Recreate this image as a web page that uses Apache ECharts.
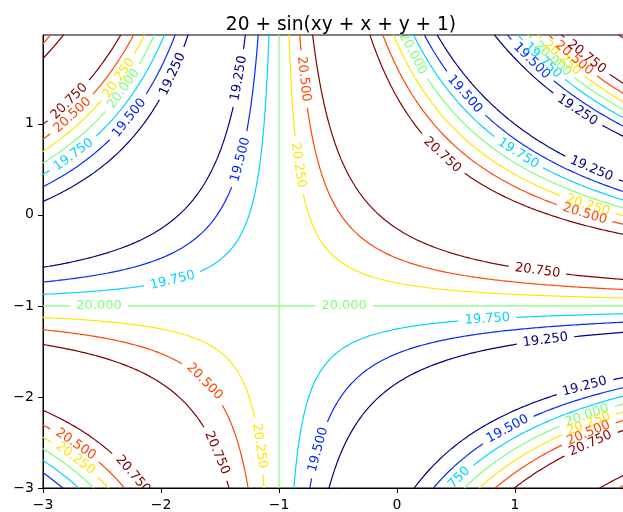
<!DOCTYPE html>
<html lang="en">
<head>
<meta charset="utf-8">
<title>20 + sin(xy + x + y + 1)</title>
</head>
<body style="margin: 0; overflow: hidden; background: #fff">
<div id="container" style="width: 640px; height: 512px"></div>

<script type="text/javascript" src="https://cdn.jsdelivr.net/npm/echarts/dist/echarts.min.js"></script>

<script type="text/javascript">

// contour levels and their colours (jet)
var levels = [19.25, 19.5, 19.75, 20.0, 20.25, 20.5, 20.75];
var levelColors = ['#000080', '#0029ff', '#00d4ff', '#7cff7a', '#ffe600', '#ff4700', '#800000'];

// data extent of the sampled grid
var xRange = [-3, 1.975];
var yRange = [-3, 1.975];
var xTicks = [-3, -2, -1, 0, 1];
var yTicks = [-3, -2, -1, 0, 1];

// inline contour labels: level index and approximate position (data units)
var labelLevel = [6, 5, 4, 3, 1, 0, 2, 0, 5, 1, 4, 3, 1, 1, 2, 3, 4, 5, 6, 0, 6, 2, 0, 4, 5, 6,
    3, 2, 0, 3, 2, 0, 1, 2, 3, 4, 5, 6, 5, 4, 6, 1, 5, 4, 6];
var labelX = [-2.780, -2.754, -2.347, -2.320, -2.271, -1.904, -2.743, -1.358, -0.794, -1.345, -0.836,
    0.144, 0.568, 1.147, 1.254, 1.353, 1.438, 1.523, 1.608, 1.534, 0.364, 1.028, 1.650, 1.621, 1.593,
    1.189, -0.449, 0.765, 1.260, -2.525, -1.904, 1.593, 0.930, 0.449, 1.608, 1.621, 1.621, 1.641,
    -1.627, -1.161, -1.514, -0.681, -2.720, -2.720, -2.235];
var labelY = [1.246, 1.100, 1.490, 1.390, 1.064, 1.545, 0.670, 1.508, 1.490, 0.616, 0.543,
    1.778, 1.319, 1.691, 1.720, 1.764, 1.781, 1.745, 1.727, 1.166, 0.633, 0.670, 0.506, 0.105, 0.014,
    -0.613, -1.0, -1.145, -1.363, -1.0, -0.715, -1.881, -2.336, -2.945, -2.191, -2.282, -2.391, -2.500,
    -1.827, -2.538, -2.610, -2.574, -2.519, -2.664, -2.847];

var dom = document.getElementById('container');
var myChart = echarts.init(dom);

function minusFmt(v) {
    return String(v).replace('-', '\u2212');
}

option = {
    animation: false,
    title: {
        text: '20 + sin(xy + x + y + 1)',
        left: 336,
        textAlign: 'center',
        top: 11,
        textStyle: {
            fontFamily: 'DejaVu Sans',
            fontSize: 18.6,
            fontWeight: 'normal',
            color: '#000'
        }
    },
    grid: {
        left: 43,
        right: 10,
        top: 35,
        bottom: 23,
        show: true,
        borderColor: '#000',
        borderWidth: 1
    },
    xAxis: {
        type: 'value',
        min: xRange[0],
        max: xRange[1],
        splitLine: { show: false },
        axisLine: { onZero: false, lineStyle: { color: '#000' } },
        axisTick: { inside: false, length: 5, customValues: xTicks, lineStyle: { color: '#000' } },
        axisLabel: {
            customValues: xTicks,
            formatter: minusFmt,
            margin: 10,
            color: '#000',
            fontFamily: 'DejaVu Sans',
            fontSize: 14
        }
    },
    yAxis: {
        type: 'value',
        min: yRange[0],
        max: yRange[1],
        splitLine: { show: false },
        axisLine: { onZero: false, lineStyle: { color: '#000' } },
        axisTick: { inside: false, length: 5, customValues: yTicks, lineStyle: { color: '#000' } },
        axisLabel: {
            customValues: yTicks,
            formatter: minusFmt,
            margin: 9,
            color: '#000',
            fontFamily: 'DejaVu Sans',
            fontSize: 14
        }
    },
    series: []
};

myChart.setOption(option);

// contour curves of 20 + sin((x+1)(y+1)) : (x+1)(y+1) = c
var corners = [];
[xRange[0], xRange[1]].forEach(function (x) {
    [yRange[0], yRange[1]].forEach(function (y) {
        corners.push((x + 1) * (y + 1));
    });
});
var uMin = Math.min.apply(null, corners.concat([0]));
var uMax = Math.max.apply(null, corners.concat([0]));

function inBox(x, y) {
    return x >= xRange[0] && x <= xRange[1] && y >= yRange[0] && y <= yRange[1];
}

var curves = [];
levels.forEach(function (lev, li) {
    var a = Math.asin(lev - 20);
    var cs = [];
    for (var k = -3; k <= 3; k++) {
        [a + 2 * Math.PI * k, Math.PI - a + 2 * Math.PI * k].forEach(function (c) {
            if (c >= uMin && c <= uMax && !cs.some(function (d) { return Math.abs(d - c) < 1e-9; })) {
                cs.push(c);
            }
        });
    }
    cs.forEach(function (c) {
        if (Math.abs(c) < 1e-9) {
            curves.push({ li: li, pts: [[-1, yRange[0]], [-1, yRange[1]]] });
            curves.push({ li: li, pts: [[xRange[0], -1], [xRange[1], -1]] });
            return;
        }
        var r = Math.sqrt(Math.abs(c));
        var quads = c > 0 ? [[1, 1], [-1, -1]] : [[-1, 1], [1, -1]];
        quads.forEach(function (q) {
            var run = null;
            var prev = null;
            for (var t = -12; t <= 12; t += 0.003) {
                var x = -1 + q[0] * r * Math.exp(t);
                var y = -1 + q[1] * r * Math.exp(-t);
                var inside = inBox(x, y);
                if (inside) {
                    if (!run) {
                        run = [];
                        if (prev) run.push(prev);
                    }
                    run.push([x, y]);
                } else if (run) {
                    run.push([x, y]);
                    curves.push({ li: li, pts: run });
                    run = null;
                }
                prev = [x, y];
            }
            if (run) curves.push({ li: li, pts: run });
        });
    });
});

// pixel mapping for label placement
var p0 = myChart.convertToPixel({ gridIndex: 0 }, [xRange[0], yRange[0]]);
var p1 = myChart.convertToPixel({ gridIndex: 0 }, [xRange[1], yRange[1]]);
function toPx(pt) {
    return [
        p0[0] + (pt[0] - xRange[0]) / (xRange[1] - xRange[0]) * (p1[0] - p0[0]),
        p0[1] + (pt[1] - yRange[0]) / (yRange[1] - yRange[0]) * (p1[1] - p0[1])
    ];
}
curves.forEach(function (cv) {
    if (cv.pts.length === 2) {
        // straight line: densify so it can be cut
        var a = cv.pts[0], b = cv.pts[1], n = 2000, pts = [];
        for (var i = 0; i <= n; i++) {
            pts.push([a[0] + (b[0] - a[0]) * i / n, a[1] + (b[1] - a[1]) * i / n]);
        }
        cv.pts = pts;
    }
    cv.px = cv.pts.map(toPx);
    cv.cut = cv.pts.map(function () { return false; });
});

var labelFont = '13px "DejaVu Sans"';
var ctx = document.createElement('canvas').getContext('2d');
ctx.font = labelFont;

var labelData = [];
labelLevel.forEach(function (li, k) {
    var target = toPx([labelX[k], labelY[k]]);
    var best = null, bestD = Infinity, bestI = 0;
    curves.forEach(function (cv) {
        if (cv.li !== li) return;
        cv.px.forEach(function (p, i) {
            var d = (p[0] - target[0]) * (p[0] - target[0]) + (p[1] - target[1]) * (p[1] - target[1]);
            if (d < bestD) { bestD = d; best = cv; bestI = i; }
        });
    });
    if (!best) return;
    var n = best.px.length;
    var c = best.px[bestI];
    var pa = best.px[Math.max(bestI - 4, 0)];
    var pb = best.px[Math.min(bestI + 4, n - 1)];
    var ang = Math.atan2(-(pb[1] - pa[1]), pb[0] - pa[0]);
    if (ang > Math.PI / 2) ang -= Math.PI;
    if (ang < -Math.PI / 2) ang += Math.PI;
    var half = ctx.measureText(levels[li].toFixed(3)).width / 2 + 6;
    function dist(p) { return Math.sqrt((p[0] - c[0]) * (p[0] - c[0]) + (p[1] - c[1]) * (p[1] - c[1])); }
    for (var i = bestI; i >= 0 && dist(best.px[i]) < half; i--) best.cut[i] = true;
    for (var j = bestI; j < n && dist(best.px[j]) < half; j++) best.cut[j] = true;
    labelData.push([best.pts[bestI][0], best.pts[bestI][1], ang, li]);
});

var series = [];
curves.forEach(function (cv) {
    var seg = [];
    function flush() {
        if (seg.length > 1) {
            series.push({
                type: 'line',
                data: seg,
                symbol: 'none',
                silent: true,
                clip: true,
                lineStyle: { color: levelColors[cv.li], width: 1.2 },
                z: 2
            });
        }
        seg = [];
    }
    cv.pts.forEach(function (p, i) {
        if (cv.cut[i]) flush();
        else seg.push(p);
    });
    flush();
});

series.push({
    type: 'custom',
    clip: true,
    silent: true,
    z: 3,
    encode: { x: 0, y: 1 },
    data: labelData,
    renderItem: function (params, api) {
        var p = api.coord([api.value(0), api.value(1)]);
        var li = api.value(3);
        return {
            type: 'text',
            x: p[0],
            y: p[1],
            rotation: api.value(2),
            style: {
                text: levels[li].toFixed(3),
                fill: levelColors[li],
                font: labelFont,
                align: 'center',
                verticalAlign: 'middle'
            }
        };
    }
});

myChart.setOption({ series: series });

window.addEventListener('resize', myChart.resize);
</script>
</body>
</html>
